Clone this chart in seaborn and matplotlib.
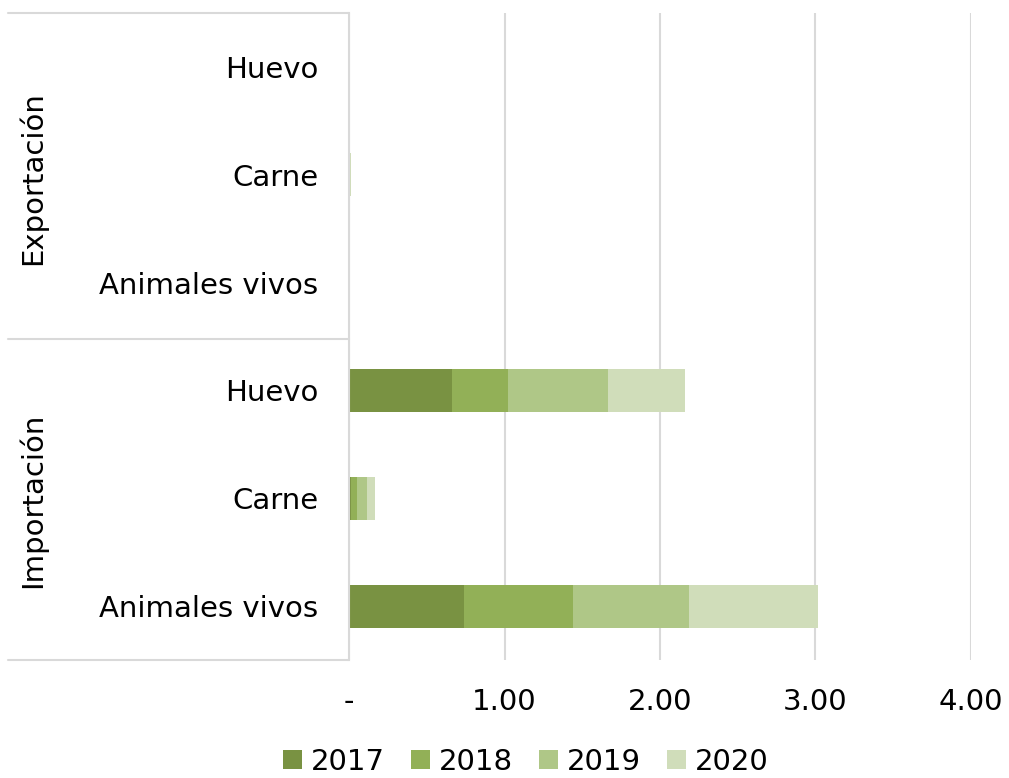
import matplotlib
matplotlib.use("Agg")
import matplotlib.pyplot as plt
import seaborn as sns
import pandas as pd
import numpy as np
from matplotlib.patches import Patch
from matplotlib.lines import Line2D

groups = ["Exportación", "Importación"]
products = ["Huevo", "Carne", "Animales vivos"]
years = ["2017", "2018", "2019", "2020"]
colors = ["#799242", "#92B057", "#AFC787", "#D0DDBA"]

# values per year for [Exp Huevo, Exp Carne, Exp Animales, Imp Huevo, Imp Carne, Imp Animales]
v2017 = [0.0, 0.0, 0.0, 0.66, 0.013, 0.74]
v2018 = [0.0, 0.0, 0.0, 0.36, 0.038, 0.70]
v2019 = [0.0, 0.004, 0.0, 0.645, 0.065, 0.745]
v2020 = [0.0, 0.008, 0.0, 0.495, 0.052, 0.83]
xticks = [0, 1, 2, 3, 4]
xticklabels = ["-", "1.00", "2.00", "3.00", "4.00"]

keys = [f"{g}|{p}" for g in groups for p in products]
vals = np.array([v2017, v2018, v2019, v2020])
cum = np.cumsum(vals, axis=0)

sns.set_theme(style="white")
plt.rcParams["font.family"] = ["DejaVu Sans"]
plt.rcParams["text.color"] = "#000000"
FS = 21

fig = plt.figure(figsize=(10.09, 7.78), dpi=100)
ax = fig.add_axes([349/1009, 1-660/778, (971-349)/1009, (660-13)/778])

for i in range(len(years) - 1, -1, -1):
    df = pd.DataFrame({"key": keys, "value": cum[i]})
    sns.barplot(data=df, x="value", y="key", order=keys, color=colors[i],
                width=0.4, saturation=1, ax=ax, orient="h", linewidth=0)

ax.set_xlim(0, 4)
ax.set_xticks(xticks)
ax.set_xticklabels(xticklabels, fontsize=FS, color="#000000")
ax.set_yticklabels([k.split("|")[1] for k in keys], fontsize=FS, color="#000000")
ax.set_xlabel("")
ax.set_ylabel("")
ax.tick_params(axis="both", length=0)
ax.tick_params(axis="y", pad=22)
ax.tick_params(axis="x", pad=20)
ax.grid(axis="x", color="#D9D9D9", linewidth=1.5)
ax.set_axisbelow(True)
for s in ["top", "right", "bottom"]:
    ax.spines[s].set_visible(False)
ax.spines["left"].set_color("#D9D9D9")
ax.spines["left"].set_linewidth(1.5)

# group separators
line_kw = dict(color="#D9D9D9", linewidth=1.5)
for yy in [13, 339, 660]:
    fig.add_artist(Line2D([8/1009, 349/1009], [1-yy/778, 1-yy/778], **line_kw))

fig.text(32/1009, 1-178/778, "Exportación", rotation=90, ha="center", va="center",
         fontsize=FS, color="#000000")
fig.text(32/1009, 1-500/778, "Importación", rotation=90, ha="center", va="center",
         fontsize=FS, color="#000000")

handles = [Patch(facecolor=c, edgecolor="none", label=y) for y, c in zip(years, colors)]
leg = fig.legend(handles=handles, loc="center", bbox_to_anchor=(526/1009, 1-762/778), ncol=4,
                 frameon=False, fontsize=FS, handlelength=0.65, handleheight=0.65,
                 handletextpad=0.3, columnspacing=0.9)
for t in leg.get_texts():
    t.set_color("#000000")

fig.savefig("out.png", dpi=100)
